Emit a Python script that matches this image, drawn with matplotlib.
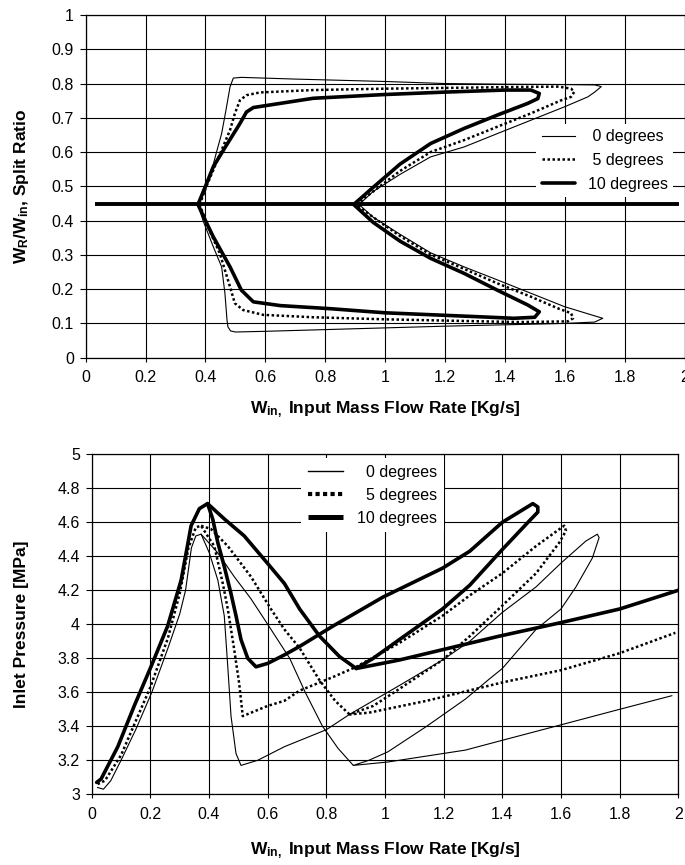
import matplotlib
matplotlib.use("Agg")
import matplotlib.pyplot as plt
from matplotlib.lines import Line2D

plt.rcParams['font.family'] = ['Liberation Sans', 'DejaVu Sans']
plt.rcParams['mathtext.fontset'] = 'custom'
plt.rcParams['mathtext.rm'] = 'Liberation Sans'
plt.rcParams['mathtext.bf'] = 'Liberation Sans:bold'
plt.rcParams['mathtext.it'] = 'Liberation Sans:italic'

# ---------------- data: top chart (split ratio) ----------------
labels = ["0 degrees", "5 degrees", "10 degrees"]

top_x_0 = [0.375,0.392,0.415,0.437,0.454,0.468,0.482,0.493,0.52,0.70,1.00,1.20,1.40,1.60,1.70,1.722,
           1.70,1.677,1.599,1.487,1.375,1.264,1.152,1.05,0.96,0.913,0.96,1.05,1.152,1.264,1.375,1.487,
           1.599,1.689,1.727,1.70,1.60,1.40,1.20,1.00,0.80,0.60,0.50,0.484,0.475,0.472,0.465,0.454,
           0.426,0.392,0.375]
top_y_0 = [0.447,0.49,0.528,0.60,0.654,0.72,0.79,0.816,0.818,0.813,0.806,0.800,0.798,0.797,0.796,0.791,
           0.775,0.761,0.732,0.693,0.654,0.615,0.586,0.535,0.485,0.447,0.41,0.36,0.306,0.265,0.227,0.188,
           0.149,0.125,0.115,0.104,0.100,0.096,0.092,0.087,0.082,0.077,0.075,0.078,0.09,0.11,0.188,0.265,
           0.324,0.40,0.447]

top_x_5 = [0.381,0.403,0.426,0.454,0.482,0.498,0.515,0.537,0.582,0.76,1.0,1.273,1.45,1.58,1.621,1.632,
           1.621,1.588,1.487,1.375,1.264,1.152,1.05,0.96,0.904,0.96,1.05,1.152,1.264,1.375,1.487,1.58,
           1.621,1.628,1.61,1.45,1.273,1.0,0.76,0.593,0.526,0.498,0.482,0.448,0.403,0.381]
top_y_5 = [0.447,0.50,0.547,0.606,0.664,0.712,0.751,0.766,0.774,0.781,0.785,0.788,0.790,0.791,0.785,0.776,
           0.761,0.751,0.713,0.674,0.635,0.60,0.545,0.485,0.447,0.41,0.355,0.301,0.259,0.217,0.178,0.143,
           0.130,0.115,0.106,0.104,0.107,0.112,0.118,0.125,0.139,0.159,0.207,0.304,0.392,0.447]

top_x_10 = [0.375,0.40,0.426,0.47,0.515,0.537,0.56,0.76,1.0,1.2,1.40,1.487,1.515,1.51,1.476,1.375,1.264,
            1.152,1.05,0.96,0.895,0.96,1.05,1.152,1.264,1.375,1.476,1.515,1.50,1.43,1.3,1.0,0.817,0.65,
            0.56,0.52,0.482,0.426,0.40,0.375]
top_y_10 = [0.447,0.50,0.557,0.62,0.683,0.717,0.730,0.757,0.768,0.775,0.781,0.781,0.771,0.756,0.742,0.708,
            0.669,0.625,0.565,0.497,0.447,0.395,0.34,0.29,0.246,0.197,0.154,0.134,0.118,0.115,0.120,0.131,
            0.143,0.152,0.163,0.197,0.265,0.353,0.40,0.447]

split_line_x = [0.03, 1.98]
split_line_y = [0.448, 0.448]

top_xticks = [0, 0.2, 0.4, 0.6, 0.8, 1.0, 1.2, 1.4, 1.6, 1.8, 2.0]
top_xticklabels = ["0", "0.2", "0.4", "0.6", "0.8", "1", "1.2", "1.4", "1.6", "1.8", "2"]
top_yticks = [0, 0.1, 0.2, 0.3, 0.4, 0.5, 0.6, 0.7, 0.8, 0.9, 1.0]
top_yticklabels = ["0", "0.1", "0.2", "0.3", "0.4", "0.5", "0.6", "0.7", "0.8", "0.9", "1"]

# ---------------- data: bottom chart (inlet pressure) ----------------
bot_x_0 = [0.02,0.04,0.065,0.10,0.15,0.205,0.26,0.30,0.32,0.34,0.355,0.373,
           0.401,0.43,0.452,0.464,0.475,0.492,0.509,
           0.566,0.657,0.80,0.879,1.049,1.196,1.289,1.40,1.515,1.60,1.685,1.724,1.73,
           1.707,1.651,1.60,1.515,1.40,1.357,1.274,1.142,1.01,0.945,0.892,
           1.01,1.274,1.405,1.603,1.80,1.978]
bot_y_0 = [3.04,3.03,3.08,3.20,3.38,3.60,3.86,4.06,4.20,4.45,4.52,4.53,
           4.42,4.26,4.05,3.75,3.46,3.24,3.17,
           3.20,3.28,3.38,3.47,3.64,3.79,3.90,4.07,4.22,4.36,4.49,4.53,4.51,
           4.39,4.22,4.09,3.97,3.74,3.68,3.56,3.40,3.25,3.20,3.17,
           3.19,3.26,3.32,3.41,3.50,3.58]
bot_x_0_branch = [0.373,0.43,0.486,0.543,0.60,0.675,0.728,0.787,0.84,0.892]
bot_y_0_branch = [4.53,4.42,4.28,4.15,4.00,3.80,3.60,3.40,3.27,3.17]

bot_x_5 = [0.02,0.045,0.10,0.15,0.20,0.26,0.30,0.33,0.355,0.373,
           0.395,0.418,0.447,0.464,0.486,0.503,0.515,
           0.60,0.657,0.709,0.823,0.902,1.049,1.196,1.289,1.40,1.515,1.611,1.617,
           1.594,1.515,1.40,1.289,1.196,1.049,0.96,0.879,
           0.945,1.142,1.405,1.60,1.80,1.99]
bot_y_5 = [3.06,3.08,3.23,3.43,3.63,3.92,4.18,4.45,4.57,4.58,
           4.52,4.46,4.24,4.09,3.85,3.65,3.46,
           3.52,3.55,3.61,3.69,3.75,3.89,4.05,4.17,4.30,4.46,4.58,4.55,
           4.48,4.30,4.11,3.93,3.79,3.62,3.52,3.47,
           3.48,3.55,3.66,3.73,3.83,3.95]
bot_x_5_branch = [0.373,0.407,0.464,0.543,0.611,0.657,0.709,0.777,0.83,0.879]
bot_y_5_branch = [4.58,4.56,4.46,4.28,4.09,3.97,3.86,3.67,3.55,3.47]

bot_x_10 = [0.017,0.032,0.089,0.145,0.202,0.259,0.305,0.339,0.367,0.395,
            0.4125,0.43,0.452,0.475,0.492,0.509,0.532,0.56,
            0.60,0.657,0.709,0.823,0.993,1.196,1.289,1.40,1.504,1.521,1.521,
            1.493,1.40,1.289,1.196,1.049,0.96,0.902,
            1.049,1.219,1.389,1.60,1.80,2.0]
bot_y_10 = [3.07,3.09,3.28,3.52,3.75,3.99,4.26,4.58,4.68,4.71,
            4.62,4.48,4.34,4.18,4.05,3.91,3.80,3.75,
            3.77,3.82,3.87,3.99,4.16,4.33,4.43,4.60,4.71,4.69,4.66,
            4.61,4.44,4.23,4.09,3.91,3.80,3.74,
            3.79,3.86,3.93,4.01,4.09,4.20]
bot_x_10_branch = [0.395,0.452,0.52,0.589,0.657,0.709,0.777,0.845,0.902]
bot_y_10_branch = [4.71,4.62,4.52,4.38,4.24,4.09,3.93,3.81,3.74]

bot_xticks = top_xticks
bot_xticklabels = top_xticklabels
bot_yticks = [3.0, 3.2, 3.4, 3.6, 3.8, 4.0, 4.2, 4.4, 4.6, 4.8, 5.0]
bot_yticklabels = ["3", "3.2", "3.4", "3.6", "3.8", "4", "4.2", "4.4", "4.6", "4.8", "5"]

# ---------------- styles ----------------
W, H = 685, 865
fig = plt.figure(figsize=(W / 100, H / 100), dpi=100)

thin = dict(color='black', lw=0.8, solid_joinstyle='round')
dots = dict(color='black', lw=1.8, linestyle=(0, (1, 1)), dash_capstyle='butt')
thick = dict(color='black', lw=2.6, solid_joinstyle='round', solid_capstyle='round')

TICK_FS = 11.5
LAB_FS = 12.5


def style_axes(ax, xt, xtl, yt, ytl, ylim):
    ax.set_xlim(0, 2)
    ax.set_ylim(*ylim)
    ax.set_xticks(xt)
    ax.set_xticklabels(xtl)
    ax.set_yticks(yt)
    ax.set_yticklabels(ytl)
    ax.grid(True, color='black', lw=0.8)
    ax.set_axisbelow(True)
    for s in ax.spines.values():
        s.set_color('black')
        s.set_linewidth(0.9)
    ax.tick_params(axis='y', direction='out', length=4.5, width=0.8, pad=4, labelsize=TICK_FS)
    ax.tick_params(axis='x', direction='out', length=3, width=0.8, pad=6, labelsize=TICK_FS)


# ---------------- top chart ----------------
ax1 = fig.add_axes([85.7 / W, (H - 357.7) / H, (684.5 - 85.7) / W, 342.7 / H])
style_axes(ax1, top_xticks, top_xticklabels, top_yticks, top_yticklabels, (0, 1))
ax1.set_clip_on(False)
l0, = ax1.plot(top_x_0, top_y_0, **thin, zorder=3)
l5, = ax1.plot(top_x_5, top_y_5, **dots, zorder=4)
l10, = ax1.plot(top_x_10, top_y_10, **thick, zorder=5)
ax1.plot(split_line_x, split_line_y, color='black', lw=2.8, solid_capstyle='butt', zorder=6)

leg1 = ax1.legend([l0, l5, l10], [" 0 degrees", " 5 degrees", "10 degrees"],
                  loc='upper left', bbox_to_anchor=(0.752, 0.683), frameon=True,
                  fancybox=False, framealpha=1, facecolor='white', edgecolor='none',
                  fontsize=TICK_FS, handlelength=2.1, handletextpad=0.8,
                  labelspacing=0.55, borderpad=0.35, borderaxespad=0)
leg1.set_zorder(10)

fig.text((85.7 + 684.5) / 2 / W, 1 - 410 / H, r"$\mathbf{W_{in,}}$ Input Mass Flow Rate [Kg/s]",
         ha='center', va='center', fontsize=LAB_FS, fontweight='bold')
fig.text(21.5 / W, 1 - 186 / H, r"$\mathbf{W_R/W_{in}}$, Split Ratio",
         ha='center', va='center', rotation=90, fontsize=LAB_FS, fontweight='bold')

# ---------------- bottom chart ----------------
ax2 = fig.add_axes([91.7 / W, (H - 794.3) / H, (678.3 - 91.7) / W, 340 / H])
style_axes(ax2, bot_xticks, bot_xticklabels, bot_yticks, bot_yticklabels, (3, 5))
ax2.plot(bot_x_0, bot_y_0, **thin, zorder=3)
ax2.plot(bot_x_0_branch, bot_y_0_branch, **thin, zorder=3)
ax2.plot(bot_x_5, bot_y_5, **dots, zorder=4)
ax2.plot(bot_x_5_branch, bot_y_5_branch, **dots, zorder=4)
ax2.plot(bot_x_10, bot_y_10, **thick, zorder=5)
ax2.plot(bot_x_10_branch, bot_y_10_branch, **thick, zorder=5)

h0 = Line2D([], [], color='black', lw=1.0)
h5 = Line2D([], [], color='black', lw=3.0, linestyle=(0, (1, 0.8)), dash_capstyle='butt')
h10 = Line2D([], [], color='black', lw=3.6, solid_capstyle='butt')
leg2 = ax2.legend([h0, h5, h10], ["  0 degrees", "  5 degrees", "10 degrees"],
                  loc='upper left', bbox_to_anchor=(0.357, 0.988), frameon=True,
                  fancybox=False, framealpha=1, facecolor='white', edgecolor='none',
                  fontsize=TICK_FS, handlelength=2.2, handletextpad=0.9,
                  labelspacing=0.5, borderpad=0.4, borderaxespad=0)
leg2.set_zorder(10)

fig.text((91.7 + 678.3) / 2 / W, 1 - 851 / H, r"$\mathbf{W_{in,}}$ Input Mass Flow Rate [Kg/s]",
         ha='center', va='center', fontsize=LAB_FS, fontweight='bold')
fig.text(21.5 / W, 1 - 624 / H, "Inlet Pressure [MPa]",
         ha='center', va='center', rotation=90, fontsize=LAB_FS, fontweight='bold')

fig.savefig("out.png", dpi=100)
